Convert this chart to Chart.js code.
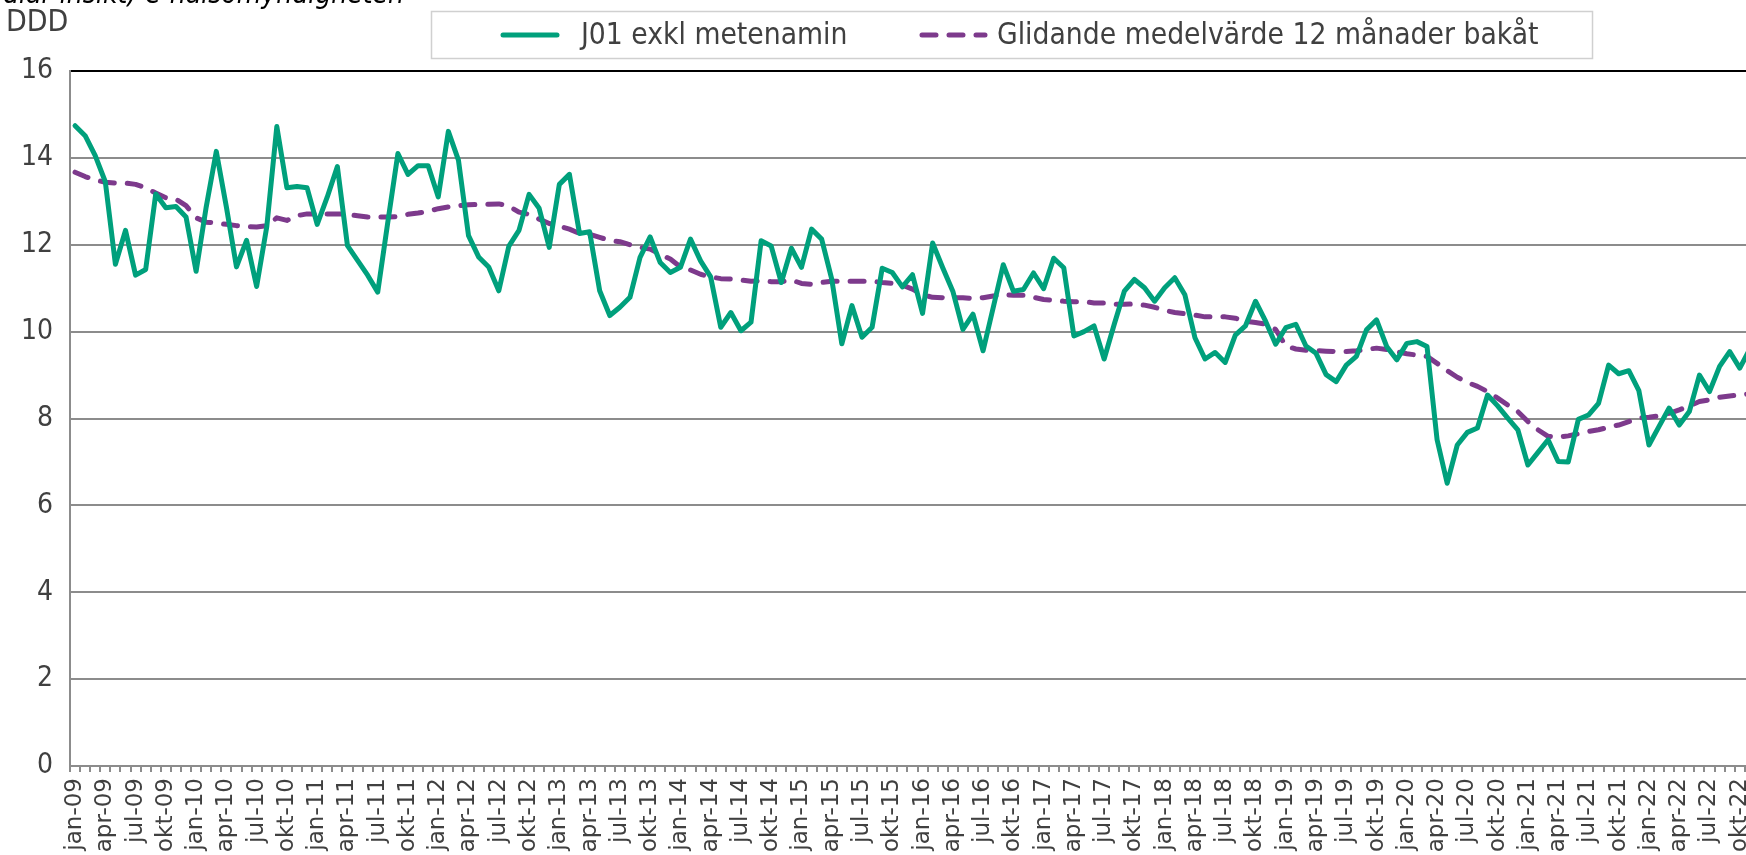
<!DOCTYPE html>
<html>
<head>
<meta charset="utf-8">
<script src="https://cdn.jsdelivr.net/npm/chart.js@4.4.1/dist/chart.umd.min.js"></script>
<style>
html,body{margin:0;padding:0;overflow:hidden;background:#ffffff;width:1746px;height:855px;}
canvas{display:block;}
</style>
</head>
<body>
<canvas id="c" width="1800" height="855"></canvas>
<script>
// ---- data ----
const monthNames = ['jan','feb','mar','apr','maj','jun','jul','aug','sep','okt','nov','dec'];
const years = ['09','10','11','12','13','14','15','16','17','18','19','20','21','22'];
const seriesNames = ['J01 exkl metenamin', 'Glidande medelvärde 12 månader bakåt'];
const yAxisTitle = 'DDD';
const sourceNote = 'Källa: Concise (handlar insikt) e-hälsomyndigheten';
const yTickValues = [0, 2, 4, 6, 8, 10, 12, 14, 16];

const j01Values = [
  14.74, 14.51, 14.05, 13.45, 11.55, 12.33, 11.30, 11.43, 13.17, 12.85, 12.88, 12.64,
  11.39, 12.87, 14.15, 12.87, 11.49, 12.10, 11.04, 12.41, 14.72, 13.31, 13.34, 13.31,
  12.47, 13.10, 13.80, 11.98, 11.64, 11.30, 10.91, 12.52, 14.10, 13.62, 13.82, 13.82,
  13.10, 14.61, 13.95, 12.21, 11.72, 11.49, 10.94, 11.97, 12.33, 13.16, 12.84, 11.94,
  13.39, 13.62, 12.26, 12.30, 10.94, 10.37, 10.56, 10.79, 11.71, 12.18, 11.59, 11.36,
  11.48, 12.13, 11.63, 11.26, 10.10, 10.44, 10.02, 10.22, 12.09, 11.97, 11.13, 11.92,
  11.48, 12.36, 12.13, 11.21, 9.72, 10.60, 9.87, 10.10, 11.46, 11.36, 11.03, 11.31,
  10.42, 12.04, 11.47, 10.93, 10.05, 10.40, 9.56, 10.55, 11.54, 10.93, 10.97, 11.35,
  10.99, 11.69, 11.47, 9.90, 10.00, 10.13, 9.37, 10.17, 10.93, 11.20, 11.01, 10.70,
  11.01, 11.24, 10.85, 9.86, 9.37, 9.52, 9.29, 9.92, 10.13, 10.70, 10.24, 9.71,
  10.09, 10.17, 9.67, 9.50, 9.01, 8.85, 9.23, 9.43, 10.04, 10.27, 9.66, 9.35,
  9.73, 9.77, 9.66, 7.51, 6.51, 7.39, 7.68, 7.78, 8.54, 8.29, 8.01, 7.74,
  6.93, 7.22, 7.51, 7.01, 7.00, 7.98, 8.08, 8.35, 9.23, 9.03, 9.10, 8.64,
  7.39, 7.82, 8.24, 7.85, 8.16, 9.00, 8.62, 9.20, 9.54, 9.16, 9.60, 9.30
];

const movingAvg12 = [
  13.67, 13.57, 13.49, 13.44, 13.42, 13.42, 13.39, 13.31, 13.19, 13.08, 13.05, 12.90,
  12.62, 12.52, 12.50, 12.47, 12.44, 12.42, 12.41, 12.44, 12.62, 12.56, 12.67, 12.71,
  12.71, 12.71, 12.71, 12.70, 12.67, 12.64, 12.64, 12.64, 12.65, 12.70, 12.73, 12.77,
  12.83, 12.87, 12.90, 12.92, 12.93, 12.93, 12.94, 12.89, 12.75, 12.70, 12.59, 12.49,
  12.43, 12.36, 12.26, 12.24, 12.17, 12.10, 12.07, 12.00, 11.94, 11.90, 11.78, 11.67,
  11.49, 11.42, 11.32, 11.26, 11.22, 11.21, 11.19, 11.16, 11.17, 11.15, 11.15, 11.19,
  11.11, 11.09, 11.13, 11.16, 11.16, 11.16, 11.16, 11.16, 11.13, 11.11, 11.07, 10.98,
  10.85, 10.79, 10.78, 10.78, 10.78, 10.76, 10.78, 10.82, 10.85, 10.84, 10.84, 10.79,
  10.74, 10.72, 10.70, 10.69, 10.69, 10.66, 10.66, 10.63, 10.63, 10.64, 10.61, 10.56,
  10.49, 10.44, 10.41, 10.38, 10.34, 10.34, 10.34, 10.31, 10.24, 10.21, 10.17, 10.05,
  9.67, 9.60, 9.57, 9.56, 9.55, 9.54, 9.54, 9.56, 9.59, 9.62, 9.59, 9.54,
  9.49, 9.46, 9.43, 9.27, 9.10, 8.95, 8.83, 8.74, 8.62, 8.47, 8.31, 8.16,
  7.93, 7.74, 7.59, 7.57, 7.60, 7.65, 7.70, 7.74, 7.80, 7.85, 7.93, 8.01,
  8.03, 8.06, 8.12, 8.20, 8.29, 8.39, 8.43, 8.49, 8.52, 8.54, 8.57, 8.60
];

// ---- styling ----
const GREEN = '#00a07c';
const PURPLE = '#7d3a8c';
const GRID = '#8c8c8c';
const TEXT = '#404040';
const FONT = "'DejaVu Sans Condensed', 'DejaVu Sans', sans-serif";
const FONT_X = "'DejaVu Sans', sans-serif";
const DASH = [14, 13];

const labels = [];
years.forEach(y => monthNames.forEach(m => labels.push(m + '-' + y)));

const decorations = {
  id: 'decorations',
  afterDraw(chart) {
    const ctx = chart.ctx;
    ctx.save();
    // clipped source note at very top
    ctx.font = "italic 28px " + FONT;
    ctx.fillStyle = '#000000';
    ctx.textAlign = 'right';
    ctx.textBaseline = 'alphabetic';
    ctx.fillText(sourceNote, 404, 3);
    // y axis unit
    ctx.font = "30px " + FONT;
    ctx.fillStyle = TEXT;
    ctx.textAlign = 'left';
    ctx.textBaseline = 'middle';
    ctx.fillText(yAxisTitle, 6, 23);
    // legend box
    ctx.strokeStyle = '#d0d0d0';
    ctx.lineWidth = 1.5;
    ctx.strokeRect(431.5, 11.5, 1161, 47);
    const ds = chart.data.datasets;
    const items = [
      {x0: 503, x1: 557, tx: 581},
      {x0: 922, x1: 985, tx: 997}
    ];
    items.forEach((it, k) => {
      ctx.beginPath();
      ctx.strokeStyle = ds[k].borderColor;
      ctx.lineWidth = 5;
      ctx.lineCap = 'round';
      ctx.setLineDash(ds[k].borderDash || []);
      ctx.moveTo(it.x0, 35);
      ctx.lineTo(it.x1, 35);
      ctx.stroke();
      ctx.setLineDash([]);
      ctx.font = "29.7px " + FONT;
      ctx.fillStyle = TEXT;
      ctx.textAlign = 'left';
      ctx.textBaseline = 'middle';
      ctx.fillText(ds[k].label, it.tx, 36);
    });
    ctx.restore();
  }
};

new Chart(document.getElementById('c').getContext('2d'), {
  type: 'line',
  data: {
    labels: labels,
    datasets: [
      {
        label: seriesNames[0],
        data: j01Values,
        borderColor: GREEN,
        backgroundColor: GREEN,
        borderWidth: 5,
        pointRadius: 0,
        tension: 0,
        borderJoinStyle: 'round',
        borderCapStyle: 'round'
      },
      {
        label: seriesNames[1],
        data: movingAvg12,
        borderColor: PURPLE,
        backgroundColor: PURPLE,
        borderWidth: 5,
        borderDash: DASH,
        pointRadius: 0,
        tension: 0,
        borderJoinStyle: 'round',
        borderCapStyle: 'round'
      }
    ]
  },
  options: {
    responsive: false,
    animation: false,
    events: [],
    layout: { padding: { top: 71, left: 0, right: 35, bottom: 0 } },
    plugins: { legend: { display: false }, tooltip: { enabled: false } },
    scales: {
      x: {
        type: 'category',
        offset: true,
        grid: { offset: true, drawOnChartArea: false, drawTicks: true, tickLength: 6, color: GRID, lineWidth: 2 },
        border: { display: true, color: GRID, width: 2 },
        ticks: {
          autoSkip: false,
          minRotation: 90,
          maxRotation: 90,
          padding: 6,
          color: TEXT,
          font: { family: FONT_X, size: 23 },
          callback: (v, i) => (i % 3 === 0 ? labels[i] : '')
        },
        afterFit: s => { s.height = 89; }
      },
      y: {
        min: yTickValues[0],
        max: yTickValues[yTickValues.length - 1],
        afterBuildTicks: s => { s.ticks = yTickValues.map(v => ({ value: v })); },
        ticks: { padding: 17, color: TEXT, font: { family: FONT, size: 28 } },
        grid: {
          color: c => (c.tick && c.tick.value === 16 ? '#000000' : GRID),
          lineWidth: 2,
          drawTicks: false
        },
        border: { display: true, color: GRID, width: 2 },
        afterFit: s => { s.width = 70; }
      }
    }
  },
  plugins: [decorations]
});
</script>
</body>
</html>
